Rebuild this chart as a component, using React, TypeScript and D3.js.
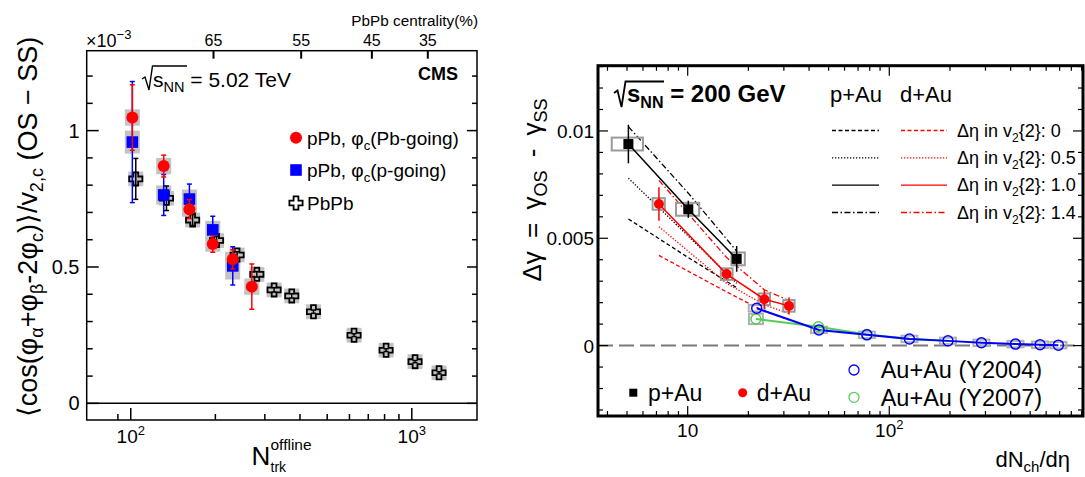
import React from "react";
import * as d3 from "d3";

const FONT = "'Liberation Sans', Arial, Helvetica, sans-serif";

// ================= Left panel (CMS, values in units of 1e-3) =================
const pbGoingN = [101.3, 131, 161.7, 195.8, 230.6, 269.6];
const pbGoingV = [1.048, 0.87, 0.712, 0.584, 0.528, 0.428];
const pbGoingStat = [0.12, 0.04, 0.035, 0.03, 0.035, 0.083];
const pbGoingSys = [0.03, 0.03, 0.028, 0.028, 0.028, 0.03];

const pGoingN = [101.3, 131, 161.7, 195.8, 230.6];
const pGoingV = [0.958, 0.764, 0.749, 0.636, 0.504];
const pGoingStat = [0.222, 0.075, 0.055, 0.05, 0.07];
const pGoingSys = [0.042, 0.035, 0.035, 0.033, 0.05];

const pbpbN = [104.2, 134, 166, 202, 239, 281, 323.6, 374, 446.8, 623, 810, 1027, 1250];
const pbpbV = [0.823, 0.752, 0.672, 0.597, 0.544, 0.473, 0.416, 0.394, 0.336, 0.25, 0.195, 0.153, 0.112];
const pbpbStat = [0.075, 0.045, 0.02, 0.015, 0.012, 0.01, 0.008, 0.008, 0.006, 0.005, 0.005, 0.004, 0.004];
const pbpbSys = [0.027, 0.027, 0.027, 0.027, 0.027, 0.027, 0.027, 0.027, 0.027, 0.027, 0.027, 0.027, 0.027];

const centralityLabels = ["65", "55", "45", "35"];
const centralityNtrk = [197, 404, 721, 1140];

const leftYMajor = [0, 0.5, 1];
const leftYMajorLabels = ["0", "0.5", "1"];
const leftYMinor = [0.1, 0.2, 0.3, 0.4, 0.6, 0.7, 0.8, 0.9, 1.1, 1.2];
const leftXMajor = [100, 1000];
const leftXMajorExp = ["2", "3"];
const leftXMinor = [90, 200, 300, 400, 500, 600, 700, 800, 900];

// ================= Right panel (STAR) =================
const pAuX = [5.08, 10.07, 17.5];
const pAuV = [0.00939, 0.00635, 0.00404];
const pAuStat = [0.0009, 0.0004, 0.0006];
const pAuSysXLo = [4.2, 8.75, 16.5];
const pAuSysXHi = [6.0, 11.4, 19.2];
const pAuSysV = [0.0003, 0.0003, 0.0003];

const dAuX = [7.2, 15.6, 24, 31.8];
const dAuV = [0.0066, 0.00333, 0.00216, 0.00185];
const dAuStat = [0.00078, 0.00025, 0.00045, 0.0004];
const dAuSysXLo = [6.7, 14.6, 22.5, 29.8];
const dAuSysXHi = [7.7, 16.7, 25.6, 33.9];
const dAuSysV = [0.00027, 0.00027, 0.00027, 0.00027];

const auau04X = [22, 44.8, 77.4, 125.9, 195.5, 286.5, 422.6, 559.8, 690];
const auau04V = [0.00174, 0.00073, 0.0005, 0.00031, 0.00022, 0.00013, 0.00007, 0.00004, 0.00002];
const auau07X = [21.8, 44.5, 77.4, 125.9, 195.5];
const auau07V = [0.00124, 0.00088, 0.00052, 0.00032, 0.00022];
const auauSysV = 0.00015;

// model curves (Delta-eta gap in v2{2})
const pAuModel0 = [0.0059, 0.0041, 0.0027];
const pAuModel05 = [0.0078, 0.0051, 0.0029];
const pAuModel14 = [0.0102, 0.0071, 0.0044];
const dAuModel0 = [0.0042, 0.0025, 0.0016, 0.0012];
const dAuModel05 = [0.00554, 0.0029, 0.0019, 0.0015];
const dAuModel14 = [0.0077, 0.0041, 0.0026, 0.0021];

const modelLabels = ["0", "0.5", "1.0", "1.4"];

const rightYMajor = [0, 0.005, 0.01];
const rightYMajorLabels = ["0", "0.005", "0.01"];
const rightYMinor = [-0.003, -0.002, -0.001, 0.001, 0.002, 0.003, 0.004, 0.006, 0.007, 0.008, 0.009, 0.011, 0.012, 0.013];
const rightXMajor = [10, 100];
const rightXMinor = [4, 5, 6, 7, 8, 9, 20, 30, 40, 50, 60, 70, 80, 90, 200, 300, 400, 500, 600, 700, 800, 900];

// ================= geometry =================
const L = { left: 86.7, right: 477, top: 50.7, bottom: 420 };
const xL = d3.scaleLog().domain([69.7, 1706]).range([L.left, L.right]);
const yL = d3.scaleLinear().domain([-0.061, 1.293]).range([L.bottom, L.top]);

const R = { left: 598, right: 1083, top: 65.7, bottom: 416 };
const xR = d3.scaleLog().domain([3.59, 914]).range([R.left, R.right]);
const yR = d3.scaleLinear().domain([-0.00328, 0.01304]).range([R.bottom, R.top]);

const RED = "#ff0000";
const BLUE = "#0000ff";
const GREEN = "#55cc55";
const GREYFILL = "#c3c3c3";
const GREYLINE = "#9a9a9a";

const DASH = { dashed: "4 2.5", dotted: "1.3 1.7", dashdot: "6 2.5 1.5 2.5" };

function crossPath(cx: number, cy: number) {
  const a = 2.4, b = 6.6;
  return `M${cx - a},${cy - b}H${cx + a}V${cy - a}H${cx + b}V${cy + a}H${cx + a}V${cy + b}H${cx - a}V${cy + a}H${cx - b}V${cy - a}H${cx - a}Z`;
}

function ErrBar({ x, y1, y2, color, w = 1.5, cap = 2.5 }: any) {
  return (
    <g stroke={color} strokeWidth={w}>
      <line x1={x} x2={x} y1={y1} y2={y2} />
      {cap > 0 && <line x1={x - cap} x2={x + cap} y1={y1} y2={y1} />}
      {cap > 0 && <line x1={x - cap} x2={x + cap} y1={y2} y2={y2} />}
    </g>
  );
}

function LeftPanel() {
  const boxHalf = 7.5;
  return (
    <g fontFamily={FONT}>
      {/* systematic boxes */}
      {pbpbN.map((n, i) => (
        <rect key={"pbs" + i} x={xL(n) - boxHalf} width={boxHalf * 2} y={yL(pbpbV[i] + pbpbSys[i])} height={yL(pbpbV[i] - pbpbSys[i]) - yL(pbpbV[i] + pbpbSys[i])} fill={GREYFILL} />
      ))}
      {pGoingN.map((n, i) => (
        <rect key={"pgs" + i} x={xL(n) - boxHalf} width={boxHalf * 2} y={yL(pGoingV[i] + pGoingSys[i])} height={yL(pGoingV[i] - pGoingSys[i]) - yL(pGoingV[i] + pGoingSys[i])} fill={GREYFILL} />
      ))}
      {pbGoingN.map((n, i) => (
        <rect key={"pbgs" + i} x={xL(n) - boxHalf} width={boxHalf * 2} y={yL(pbGoingV[i] + pbGoingSys[i])} height={yL(pbGoingV[i] - pbGoingSys[i]) - yL(pbGoingV[i] + pbGoingSys[i])} fill={GREYFILL} />
      ))}
      {/* zero line */}
      <line x1={L.left} x2={L.right} y1={yL(0)} y2={yL(0)} stroke="#000" strokeWidth={1.5} />
      {/* PbPb */}
      {pbpbN.map((n, i) => (
        <ErrBar key={"pbe" + i} x={xL(n)} y1={yL(pbpbV[i] + pbpbStat[i])} y2={yL(pbpbV[i] - pbpbStat[i])} color="#000" />
      ))}
      {pbpbN.map((n, i) => (
        <path key={"pbm" + i} d={crossPath(xL(n), yL(pbpbV[i]))} fill="none" stroke="#000" strokeWidth={1.8} />
      ))}
      {/* p-going */}
      {pGoingN.map((n, i) => (
        <ErrBar key={"pge" + i} x={xL(n)} y1={yL(pGoingV[i] + pGoingStat[i])} y2={yL(pGoingV[i] - pGoingStat[i])} color={BLUE} />
      ))}
      {pGoingN.map((n, i) => (
        <rect key={"pgm" + i} x={xL(n) - 5.8} y={yL(pGoingV[i]) - 5.8} width={11.6} height={11.6} fill={BLUE} />
      ))}
      {/* Pb-going */}
      {pbGoingN.map((n, i) => (
        <ErrBar key={"pbge" + i} x={xL(n)} y1={yL(pbGoingV[i] + pbGoingStat[i])} y2={yL(pbGoingV[i] - pbGoingStat[i])} color={RED} />
      ))}
      {pbGoingN.map((n, i) => (
        <circle key={"pbgm" + i} cx={xL(n)} cy={yL(pbGoingV[i])} r={6} fill={RED} />
      ))}

      {/* frame */}
      <rect x={L.left} y={L.top} width={L.right - L.left} height={L.bottom - L.top} fill="none" stroke="#000" strokeWidth={1.5} />
      {/* ticks */}
      <g stroke="#000" strokeWidth={1.5}>
        {leftYMajor.map((v) => (
          <g key={"ym" + v}>
            <line x1={L.left} x2={L.left + 12} y1={yL(v)} y2={yL(v)} />
            <line x1={L.right} x2={L.right - 10} y1={yL(v)} y2={yL(v)} />
          </g>
        ))}
        {leftYMinor.map((v) => (
          <g key={"yn" + v}>
            <line x1={L.left} x2={L.left + 6} y1={yL(v)} y2={yL(v)} />
            <line x1={L.right} x2={L.right - 5} y1={yL(v)} y2={yL(v)} />
          </g>
        ))}
        {leftXMajor.map((v) => (
          <line key={"xm" + v} x1={xL(v)} x2={xL(v)} y1={L.bottom} y2={L.bottom - 12} />
        ))}
        {leftXMinor.map((v) => (
          <line key={"xn" + v} x1={xL(v)} x2={xL(v)} y1={L.bottom} y2={L.bottom - 6} />
        ))}
        {centralityNtrk.map((v) => (
          <line key={"ct" + v} x1={xL(v)} x2={xL(v)} y1={L.top} y2={L.top + 8} strokeWidth={2} />
        ))}
      </g>
      {/* y tick labels */}
      {leftYMajor.map((v, i) => (
        <text key={"yl" + v} x={79.5} y={yL(v) + 7} fontSize={20} textAnchor="end">{leftYMajorLabels[i]}</text>
      ))}
      {/* x tick labels */}
      {leftXMajor.map((v, i) => (
        <text key={"xl" + v} x={xL(v)} y={442.7} fontSize={19} textAnchor="middle">
          10<tspan dy={-8} fontSize={13}>{leftXMajorExp[i]}</tspan>
        </text>
      ))}
      {/* centrality labels */}
      {centralityNtrk.map((v, i) => (
        <text key={"cl" + v} x={xL(v)} y={46} fontSize={16} textAnchor="middle">{centralityLabels[i]}</text>
      ))}
      <text x={478} y={26} fontSize={15.3} textAnchor="end">PbPb centrality(%)</text>
      <text x={86} y={46.5} fontSize={18}>
        ×10<tspan dy={-8} fontSize={13}>−3</tspan>
      </text>

      {/* annotations */}
      <path d="M142,79 L145,77 L149,90 L152.5,66 H187" fill="none" stroke="#000" strokeWidth={1.4} />
      <text x={153} y={87} fontSize={21}>
        s<tspan dy={5} fontSize={14.5}>NN</tspan><tspan dy={-5}> = 5.02 TeV</tspan>
      </text>
      <text x={458} y={80} fontSize={18} fontWeight="bold" textAnchor="end">CMS</text>

      {/* legend */}
      <circle cx={296} cy={137.7} r={6} fill={RED} />
      <text x={307} y={144.5} fontSize={19}>
        pPb, φ<tspan dy={5} fontSize={13}>c</tspan><tspan dy={-5}>(Pb-going)</tspan>
      </text>
      <rect x={296 - 5.8} y={170 - 5.8} width={11.6} height={11.6} fill={BLUE} />
      <text x={307} y={176.8} fontSize={19}>
        pPb, φ<tspan dy={5} fontSize={13}>c</tspan><tspan dy={-5}>(p-going)</tspan>
      </text>
      <path d={crossPath(296, 203)} fill="none" stroke="#000" strokeWidth={1.8} />
      <text x={307} y={210} fontSize={19}>PbPb</text>

      {/* axis titles */}
      <text x={251.5} y={465} fontSize={26}>N</text>
      <text x={270.5} y={450} fontSize={15.5}>offline</text>
      <text x={270.5} y={471.5} fontSize={14}>trk</text>
      <text transform="translate(37,227) rotate(-90)" fontSize={27} textAnchor="middle">
        ⟨cos(φ<tspan dy={6} fontSize={18}>α</tspan>
        <tspan dy={-6}>+φ</tspan>
        <tspan dy={6} fontSize={18}>β</tspan>
        <tspan dy={-6}>-2φ</tspan>
        <tspan dy={6} fontSize={18}>c</tspan>
        <tspan dy={-6}>)⟩/v</tspan>
        <tspan dy={6} fontSize={18}>2,c</tspan>
        <tspan dy={-6}> (OS − SS)</tspan>
      </text>
    </g>
  );
}

function RightPanel() {
  const line = d3.line<[number, number]>().x((d) => xR(d[0])).y((d) => yR(d[1]));
  const pts = (xs: number[], vs: number[]) => xs.map((x, i) => [x, vs[i]] as [number, number]);
  const models = [
    { xs: pAuX, vs: pAuModel0, c: "#000", dash: DASH.dashed },
    { xs: pAuX, vs: pAuModel05, c: "#000", dash: DASH.dotted },
    { xs: pAuX, vs: pAuModel14, c: "#000", dash: DASH.dashdot },
    { xs: dAuX, vs: dAuModel0, c: RED, dash: DASH.dashed },
    { xs: dAuX, vs: dAuModel05, c: RED, dash: DASH.dotted },
    { xs: dAuX, vs: dAuModel14, c: RED, dash: DASH.dashdot },
  ];
  const legendDash = [DASH.dashed, DASH.dotted, undefined, DASH.dashdot];
  const rowsY = [130.5, 157.8, 185.2, 212.5];
  return (
    <g fontFamily={FONT}>
      {/* zero line */}
      <line x1={R.left} x2={R.right} y1={yR(0)} y2={yR(0)} stroke="#7a7a7a" strokeWidth={2} strokeDasharray="15 6" />
      {/* model lines */}
      {models.map((m, i) => (
        <path key={"mod" + i} d={line(pts(m.xs, m.vs)) || ""} fill="none" stroke={m.c} strokeWidth={1.3} strokeDasharray={m.dash} />
      ))}
      {/* sys boxes */}
      {auau04X.map((x, i) => (
        <rect key={"a4s" + i} x={xR(x) - 8} width={16} y={yR(auau04V[i] + auauSysV)} height={yR(auau04V[i] - auauSysV) - yR(auau04V[i] + auauSysV)} fill="none" stroke="#b0b0b0" strokeWidth={2} />
      ))}
      {auau07X.slice(0, 1).map((x, i) => (
        <rect key={"a7s" + i} x={xR(x) - 7} width={14} y={yR(auau07V[i] + auauSysV * 1.6)} height={yR(auau07V[i] - auauSysV * 1.6) - yR(auau07V[i] + auauSysV * 1.6)} fill="none" stroke="#b0b0b0" strokeWidth={2} />
      ))}
      {pAuX.map((x, i) => (
        <rect key={"pas" + i} x={xR(pAuSysXLo[i])} width={xR(pAuSysXHi[i]) - xR(pAuSysXLo[i])} y={yR(pAuV[i] + pAuSysV[i])} height={yR(pAuV[i] - pAuSysV[i]) - yR(pAuV[i] + pAuSysV[i])} fill="none" stroke={GREYLINE} strokeWidth={2} />
      ))}
      {dAuX.map((x, i) => (
        <rect key={"das" + i} x={xR(dAuSysXLo[i])} width={xR(dAuSysXHi[i]) - xR(dAuSysXLo[i])} y={yR(dAuV[i] + dAuSysV[i])} height={yR(dAuV[i] - dAuSysV[i]) - yR(dAuV[i] + dAuSysV[i])} fill="none" stroke={GREYLINE} strokeWidth={2} />
      ))}
      {/* data lines */}
      <path d={line(pts(auau07X, auau07V)) || ""} fill="none" stroke={GREEN} strokeWidth={2} />
      <path d={line(pts(auau04X, auau04V)) || ""} fill="none" stroke={BLUE} strokeWidth={2} />
      <path d={line(pts(pAuX, pAuV)) || ""} fill="none" stroke="#000" strokeWidth={1.5} />
      <path d={line(pts(dAuX, dAuV)) || ""} fill="none" stroke={RED} strokeWidth={1.5} />
      {/* markers */}
      {auau07X.slice(0, 3).map((x, i) => (
        <circle key={"a7m" + i} cx={xR(x)} cy={yR(auau07V[i])} r={5} fill="none" stroke={GREEN} strokeWidth={1.5} />
      ))}
      {auau04X.map((x, i) => (
        <circle key={"a4m" + i} cx={xR(x)} cy={yR(auau04V[i])} r={5} fill="none" stroke={BLUE} strokeWidth={1.5} />
      ))}
      {pAuX.map((x, i) => (
        <ErrBar key={"pae" + i} x={xR(x)} y1={yR(pAuV[i] + pAuStat[i])} y2={yR(pAuV[i] - pAuStat[i])} color="#000" cap={0} />
      ))}
      {pAuX.map((x, i) => (
        <rect key={"pam" + i} x={xR(x) - 5} y={yR(pAuV[i]) - 5} width={10} height={10} fill="#000" />
      ))}
      {dAuX.map((x, i) => (
        <ErrBar key={"dae" + i} x={xR(x)} y1={yR(dAuV[i] + dAuStat[i])} y2={yR(dAuV[i] - dAuStat[i])} color={RED} cap={0} />
      ))}
      {dAuX.map((x, i) => (
        <circle key={"dam" + i} cx={xR(x)} cy={yR(dAuV[i])} r={5} fill={RED} />
      ))}

      {/* frame */}
      <rect x={R.left} y={R.top} width={R.right - R.left} height={R.bottom - R.top} fill="none" stroke="#000" strokeWidth={3} />
      <g stroke="#000" strokeWidth={1.2}>
        {rightYMajor.map((v) => (
          <g key={"rym" + v}>
            <line x1={R.left} x2={R.left + 10} y1={yR(v)} y2={yR(v)} />
            <line x1={R.right} x2={R.right - 10} y1={yR(v)} y2={yR(v)} />
          </g>
        ))}
        {rightYMinor.map((v) => (
          <g key={"ryn" + v}>
            <line x1={R.left} x2={R.left + 5} y1={yR(v)} y2={yR(v)} />
            <line x1={R.right} x2={R.right - 5} y1={yR(v)} y2={yR(v)} />
          </g>
        ))}
        {rightXMajor.map((v) => (
          <g key={"rxm" + v}>
            <line x1={xR(v)} x2={xR(v)} y1={R.bottom} y2={R.bottom - 10} />
            <line x1={xR(v)} x2={xR(v)} y1={R.top} y2={R.top + 10} />
          </g>
        ))}
        {rightXMinor.map((v) => (
          <g key={"rxn" + v}>
            <line x1={xR(v)} x2={xR(v)} y1={R.bottom} y2={R.bottom - 5} />
            <line x1={xR(v)} x2={xR(v)} y1={R.top} y2={R.top + 5} />
          </g>
        ))}
      </g>
      {rightYMajor.map((v, i) => (
        <text key={"ryl" + v} x={594} y={yR(v) + 7} fontSize={19} textAnchor="end">{rightYMajorLabels[i]}</text>
      ))}
      <text x={xR(10)} y={437} fontSize={19} textAnchor="middle">10</text>
      <text x={xR(100)} y={437} fontSize={19} textAnchor="middle">
        10<tspan dy={-8} fontSize={13}>2</tspan>
      </text>

      {/* sqrt(sNN) */}
      <path d="M614,93 L617.5,90.5 L621.5,107 L625.5,81.5 H664" fill="none" stroke="#000" strokeWidth={1.8} />
      <text x={627} y={102.3} fontSize={24} fontWeight="bold">
        s<tspan dy={6} fontSize={16}>NN</tspan><tspan dy={-6}> = 200 GeV</tspan>
      </text>

      {/* model legend */}
      <text x={830} y={102.3} fontSize={22}>p+Au</text>
      <text x={900} y={102.3} fontSize={22}>d+Au</text>
      {modelLabels.map((lab, i) => (
        <g key={"ml" + i}>
          <line x1={832} x2={879} y1={rowsY[i]} y2={rowsY[i]} stroke="#000" strokeWidth={1.3} strokeDasharray={legendDash[i]} />
          <line x1={901} x2={947} y1={rowsY[i]} y2={rowsY[i]} stroke={RED} strokeWidth={1.3} strokeDasharray={legendDash[i]} />
          <text x={957} y={rowsY[i] + 6} fontSize={18}>
            Δη in v<tspan dy={5} fontSize={12}>2</tspan><tspan dy={-5}>{"{2}: " + lab}</tspan>
          </text>
        </g>
      ))}

      {/* bottom legend */}
      <rect x={633.3 - 4} y={392.7 - 4} width={8} height={8} fill="#000" />
      <text x={648} y={400.5} fontSize={23}>p+Au</text>
      <circle cx={742.7} cy={392.7} r={4.5} fill={RED} />
      <text x={756.7} y={400.5} fontSize={23}>d+Au</text>
      <circle cx={854} cy={370} r={5} fill="none" stroke={BLUE} strokeWidth={1.3} />
      <text x={880.7} y={378} fontSize={23.5}>Au+Au (Y2004)</text>
      <circle cx={854} cy={397.3} r={5} fill="none" stroke={GREEN} strokeWidth={1.3} />
      <text x={880.7} y={405.5} fontSize={23.5}>Au+Au (Y2007)</text>

      {/* axis titles */}
      <text x={1070} y={466.7} fontSize={22} textAnchor="end">
        dN<tspan dy={5} fontSize={15}>ch</tspan><tspan dy={-5}>/dη</tspan>
      </text>
      <text transform="translate(541,190) rotate(-90)" fontSize={26} textAnchor="middle" wordSpacing={6}>
        Δγ = γ<tspan dy={6} fontSize={18}>OS</tspan>
        <tspan dy={-6}> - γ</tspan>
        <tspan dy={6} fontSize={18}>SS</tspan>
      </text>
    </g>
  );
}

export default function App() {
  return (
    <svg width={1085} height={477} viewBox="0 0 1085 477" style={{ position: "absolute", left: 0, top: 0, background: "#fff" }}>
      <rect x={0} y={0} width={1085} height={477} fill="#fff" />
      <LeftPanel />
      <RightPanel />
    </svg>
  );
}
